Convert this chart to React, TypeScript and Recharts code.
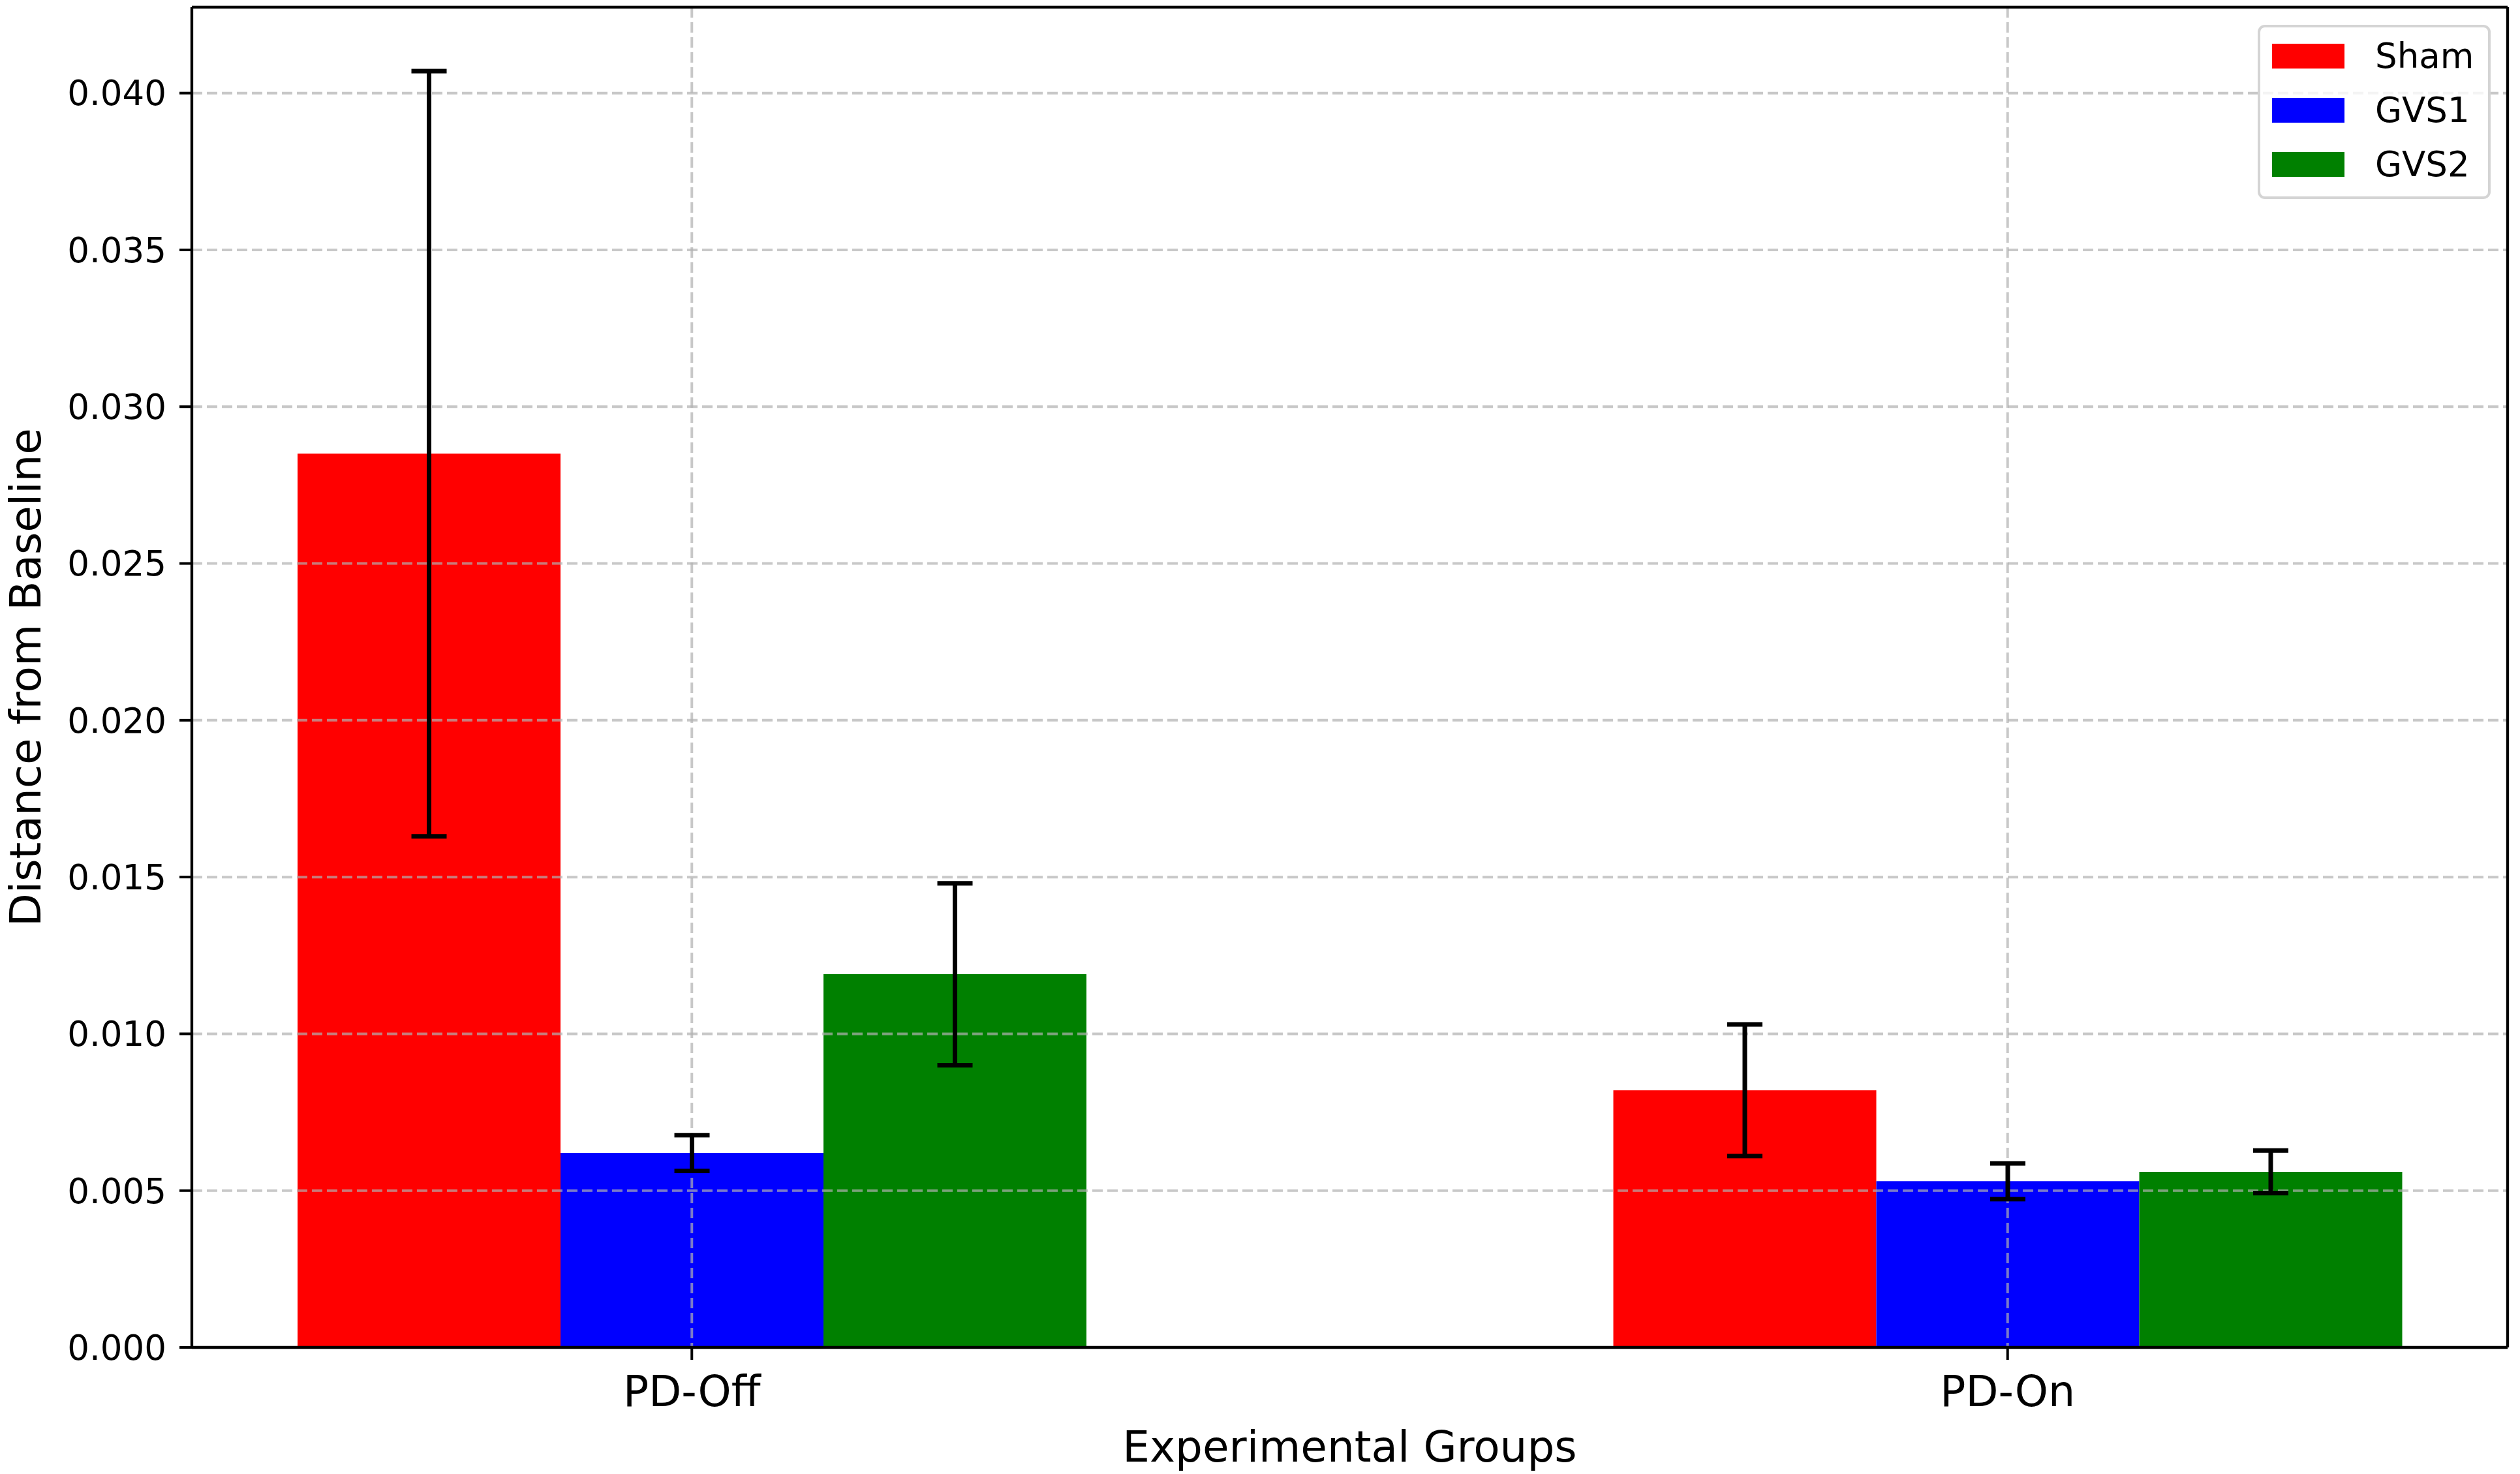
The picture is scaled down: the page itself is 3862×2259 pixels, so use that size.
import React from 'react';
import {
  Bar,
  BarChart,
  CartesianGrid,
  ErrorBar,
  Label,
  Legend,
  XAxis,
  YAxis,
} from 'recharts';

// values
const groups = ['PD-Off', 'PD-On'];
const seriesNames = ['Sham', 'GVS1', 'GVS2'];
const shamMean = [0.0285, 0.0082];
const shamErr = [0.0122, 0.0021];
const gvs1Mean = [0.0062, 0.0053];
const gvs1Err = [0.00057, 0.00057];
const gvs2Mean = [0.0119, 0.0056];
const gvs2Err = [0.0029, 0.00068];
const yTicks = [0, 0.005, 0.01, 0.015, 0.02, 0.025, 0.03, 0.035, 0.04];

const X_DOMAIN: [number, number] = [-0.38, 1.38];
const Y_DOMAIN: [number, number] = [0, 0.04274];

const FONT = '"DejaVu Sans", Verdana, sans-serif';
const W = 3862;
const H = 2259;
const SPINE = { stroke: '#000', strokeWidth: 4.3 };

const data = groups.map((g, i) => ({
  x: i,
  group: g,
  sham: shamMean[i],
  shamErr: shamErr[i],
  gvs1: gvs1Mean[i],
  gvs1Err: gvs1Err[i],
  gvs2: gvs2Mean[i],
  gvs2Err: gvs2Err[i],
}));

function LegendBox({ payload }: { payload?: Array<{ value: string; color: string }> }) {
  // keep the plotting order (Sham, GVS1, GVS2) instead of alphabetical
  const items = [...(payload ?? [])].sort(
    (a, b) => seriesNames.indexOf(a.value) - seriesNames.indexOf(b.value),
  );
  return (
    <div
      style={{
        position: 'relative',
        width: 357,
        height: 267,
        boxSizing: 'border-box',
        border: '4px solid rgba(204,204,204,0.85)',
        borderRadius: 11,
        background: 'rgba(255,255,255,0.8)',
        fontFamily: FONT,
      }}
    >
      {items.map((it, i) => (
        <div
          key={it.value}
          style={{
            position: 'absolute',
            left: 18,
            top: 25 + i * 83,
            height: 38,
            display: 'flex',
            alignItems: 'center',
            whiteSpace: 'nowrap',
          }}
        >
          <span style={{ display: 'inline-block', width: 111, height: 38, background: it.color }} />
          <span style={{ marginLeft: 47, fontSize: 53, color: '#000', lineHeight: '38px' }}>
            {it.value}
          </span>
        </div>
      ))}
    </div>
  );
}

function YTitle(props: any) {
  const vb = props.viewBox || { x: 0, y: 11, width: 294, height: 2054 };
  const cx = vb.x + 62;
  const cy = vb.y + vb.height / 2;
  return (
    <text
      x={cx}
      y={cy}
      transform={`rotate(-90 ${cx} ${cy})`}
      textAnchor="middle"
      fontFamily={FONT}
      fontSize={66}
      fill="#000"
    >
      Distance from Baseline
    </text>
  );
}

function XTitle(props: any) {
  const vb = props.viewBox || { x: 294, y: 2065, width: 3549, height: 194 };
  return (
    <text
      x={vb.x + vb.width / 2}
      y={vb.y + 175}
      textAnchor="middle"
      fontFamily={FONT}
      fontSize={66}
      fill="#000"
    >
      Experimental Groups
    </text>
  );
}

export default function App() {
  return (
    <div style={{ position: 'absolute', left: 0, top: 0, width: W, height: H, background: '#fff' }}>
      <BarChart
        width={W}
        height={H}
        data={data}
        margin={{ top: 10, right: 18, left: 0, bottom: 0 }}
        barGap={0}
        barSize={403}
      >
        <XAxis
          dataKey="x"
          type="number"
          domain={X_DOMAIN}
          ticks={[0, 1]}
          allowDataOverflow
          tickFormatter={(v: number) => groups[v] ?? ''}
          height={194}
          tickSize={19}
          tickMargin={25}
          axisLine={SPINE}
          tickLine={{ stroke: '#000', strokeWidth: 4 }}
          tick={{ fill: '#000', fontSize: 65, fontFamily: FONT }}
        >
          <Label content={<XTitle />} />
        </XAxis>
        {/* top spine */}
        <XAxis
          xAxisId="top"
          orientation="top"
          dataKey="x"
          type="number"
          domain={X_DOMAIN}
          allowDataOverflow
          height={1}
          tickSize={0}
          tick={false}
          tickLine={false}
          axisLine={SPINE}
        />
        <YAxis
          type="number"
          domain={Y_DOMAIN}
          ticks={yTicks}
          allowDataOverflow
          width={294}
          tickSize={19}
          tickMargin={20}
          tickFormatter={(v: number) => v.toFixed(3)}
          axisLine={SPINE}
          tickLine={{ stroke: '#000', strokeWidth: 4 }}
          tick={{ fill: '#000', fontSize: 53, fontFamily: FONT }}
        >
          <Label content={<YTitle />} />
        </YAxis>
        {/* right spine */}
        <YAxis
          yAxisId="right"
          orientation="right"
          type="number"
          domain={Y_DOMAIN}
          allowDataOverflow
          width={1}
          tickSize={0}
          tick={false}
          tickLine={false}
          axisLine={SPINE}
        />
        <Bar dataKey="sham" name="Sham" fill="#ff0000" isAnimationActive={false}>
          <ErrorBar dataKey="shamErr" width={27} stroke="#000" strokeWidth={7} isAnimationActive={false} />
        </Bar>
        <Bar dataKey="gvs1" name="GVS1" fill="#0000ff" isAnimationActive={false}>
          <ErrorBar dataKey="gvs1Err" width={27} stroke="#000" strokeWidth={7} isAnimationActive={false} />
        </Bar>
        <Bar dataKey="gvs2" name="GVS2" fill="#008000" isAnimationActive={false}>
          <ErrorBar dataKey="gvs2Err" width={27} stroke="#000" strokeWidth={7} isAnimationActive={false} />
        </Bar>
        <CartesianGrid
          stroke="#b0b0b0"
          strokeOpacity={0.7}
          strokeWidth={4}
          strokeDasharray="16 7"
          zIndex={350}
        />
        <Legend
          layout="vertical"
          align="center"
          verticalAlign="middle"
          itemSorter={null}
          wrapperStyle={{ left: 3460, top: 38, right: 'auto', bottom: 'auto', width: 357, height: 267 }}
          content={<LegendBox />}
        />
      </BarChart>
    </div>
  );
}
